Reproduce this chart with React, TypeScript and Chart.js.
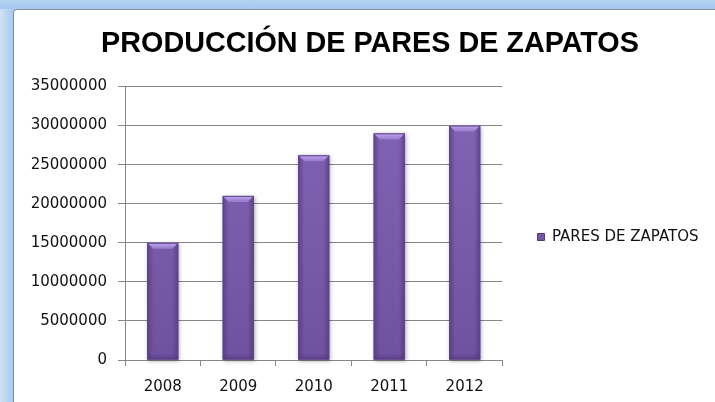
import React, { useEffect, useRef } from "react";
import { Chart, registerables } from "chart.js";

Chart.register(...registerables);

const chartTitle = "PRODUCCIÓN DE PARES DE ZAPATOS";
const categories = ["2008", "2009", "2010", "2011", "2012"];
const seriesName = "PARES DE ZAPATOS";
const seriesValues = [15000000, 21000000, 26200000, 29000000, 30000000];
const yMin = 0;
const yMax = 35000000;
const yStep = 5000000;

const GRID = "#878787";
const TEXT = "#111";
const TICK_FONT = { family: "'DejaVu Sans', sans-serif", size: 15 };

const bevelPlugin = {
  id: "bevel",
  beforeDatasetsDraw(chart: any) {
    const ctx = chart.ctx;
    const meta = chart.getDatasetMeta(0);
    meta.data.forEach((bar: any) => {
      const { x, y, width, base } = bar.getProps(["x", "y", "width", "base"], true);
      ctx.save();
      ctx.shadowColor = "rgba(0,0,0,0.35)";
      ctx.shadowBlur = 4;
      ctx.shadowOffsetX = 1;
      ctx.shadowOffsetY = 1;
      ctx.fillStyle = "#6b4f99";
      ctx.fillRect(x - width / 2, y, width, base - y);
      ctx.restore();
    });
  },
  afterDatasetsDraw(chart: any) {
    const ctx = chart.ctx;
    const meta = chart.getDatasetMeta(0);
    meta.data.forEach((bar: any) => {
      const { x, y, width, base } = bar.getProps(["x", "y", "width", "base"], true);
      const l = x - width / 2;
      const r = x + width / 2;
      const t = y;
      const b = base;
      const e = 6;
      ctx.save();
      let g = ctx.createLinearGradient(l, 0, l + e, 0);
      g.addColorStop(0, "rgba(70,45,115,0.55)");
      g.addColorStop(1, "rgba(70,45,115,0)");
      ctx.fillStyle = g;
      ctx.fillRect(l, t, e, b - t);
      g = ctx.createLinearGradient(r, 0, r - e, 0);
      g.addColorStop(0, "rgba(70,45,115,0.55)");
      g.addColorStop(1, "rgba(70,45,115,0)");
      ctx.fillStyle = g;
      ctx.fillRect(r - e, t, e, b - t);
      g = ctx.createLinearGradient(0, b, 0, b - e);
      g.addColorStop(0, "rgba(70,45,115,0.5)");
      g.addColorStop(1, "rgba(70,45,115,0)");
      ctx.fillStyle = g;
      ctx.fillRect(l, b - e, width, e);
      ctx.beginPath();
      ctx.moveTo(l, t);
      ctx.lineTo(r, t);
      ctx.lineTo(r - e, t + e);
      ctx.lineTo(l + e, t + e);
      ctx.closePath();
      g = ctx.createLinearGradient(0, t, 0, t + e);
      g.addColorStop(0, "#c0a6ee");
      g.addColorStop(1, "#9679cc");
      ctx.fillStyle = g;
      ctx.fill();
      ctx.strokeStyle = "#5e4688";
      ctx.lineWidth = 1;
      ctx.strokeRect(l + 0.5, t + 0.5, width - 1, b - t - 1);
      ctx.restore();
    });
  },
};

export default function App() {
  const canvasRef = useRef<HTMLCanvasElement | null>(null);

  useEffect(() => {
    document.body.style.margin = "0";
    const canvas = canvasRef.current;
    if (!canvas) return;
    const chart = new Chart(canvas, {
      type: "bar",
      data: {
        labels: categories,
        datasets: [
          {
            label: seriesName,
            data: seriesValues,
            backgroundColor: (c: any) => {
              const area = c.chart.chartArea;
              if (!area) return "#7b5dab";
              const g = c.chart.ctx.createLinearGradient(0, area.top, 0, area.bottom);
              g.addColorStop(0, "#8365b6");
              g.addColorStop(1, "#6f529f");
              return g;
            },
            borderWidth: 0,
            barPercentage: 0.41,
            categoryPercentage: 1,
          },
        ],
      },
      options: {
        responsive: false,
        animation: false,
        devicePixelRatio: 1,
        layout: { padding: { left: 31.5, right: 6.5, top: 0, bottom: 0 } },
        plugins: {
          title: {
            display: true,
            text: chartTitle,
            color: "#000",
            font: { family: "'Liberation Sans', Arial, sans-serif", size: 28.75, weight: "bold" },
            padding: { top: 27, bottom: 25 },
          },
          legend: {
            display: true,
            position: "right",
            maxWidth: 300,
            title: {
              display: true,
              text: "",
              font: { size: 10 },
              padding: { top: 0, bottom: 60 },
            },
            labels: {
              boxWidth: 7,
              boxHeight: 7,
              padding: 35,
              color: TEXT,
              font: TICK_FONT,
              generateLabels: () => [
                {
                  text: seriesName,
                  fillStyle: "#7456a6",
                  strokeStyle: "#4e3a78",
                  fontColor: TEXT,
                  lineWidth: 1,
                  hidden: false,
                  datasetIndex: 0,
                },
              ],
            },
          },
          tooltip: { enabled: false },
        },
        scales: {
          x: {
            offset: true,
            afterFit: (scale: any) => {
              scale.height = 42;
            },
            grid: {
              display: true,
              drawOnChartArea: false,
              drawTicks: true,
              tickLength: 6,
              color: GRID,
              offset: true,
            },
            border: { display: true, color: GRID },
            ticks: { color: TEXT, font: TICK_FONT, padding: 12 },
          },
          y: {
            min: yMin,
            max: yMax,
            afterFit: (scale: any) => {
              scale.width = 93.5;
            },
            grid: { color: GRID, tickLength: 7, drawTicks: true },
            border: { display: true, color: GRID },
            ticks: {
              stepSize: yStep,
              color: TEXT,
              font: TICK_FONT,
              padding: 11,
              callback: (v: any) => String(v),
            },
          },
        },
      },
      plugins: [bevelPlugin],
    });
    return () => chart.destroy();
  }, []);

  return (
    <div
      style={{
        position: "relative",
        width: 715,
        height: 402,
        overflow: "hidden",
        background: "linear-gradient(to right, #cfe2f7 0px, #a9cbf0 12px)",
      }}
    >
      <div
        style={{
          position: "absolute",
          left: 0,
          top: 0,
          right: 0,
          height: 9,
          background: "linear-gradient(to bottom, #b4d2f3, #a6c8ef)",
        }}
      />
      <div
        style={{
          position: "absolute",
          left: 13,
          top: 9,
          width: 720,
          height: 400,
          background: "#fff",
          borderLeft: "1px solid #8a8d92",
          borderTop: "1px solid #8a8d92",
          borderTopLeftRadius: 4,
        }}
      />
      <canvas
        ref={canvasRef}
        width={715}
        height={402}
        style={{ position: "absolute", left: 0, top: 0, width: 715, height: 402 }}
      />
    </div>
  );
}
